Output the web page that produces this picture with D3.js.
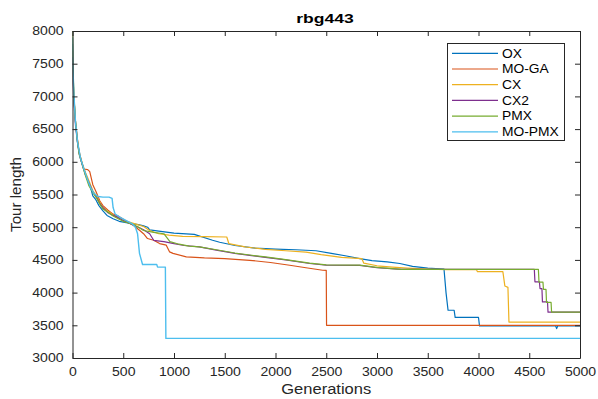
<!DOCTYPE html>
<html>
<head>
<meta charset="utf-8">
<script src="https://cdn.jsdelivr.net/npm/d3@7/dist/d3.min.js"></script>
<style>
  html, body { margin: 0; padding: 0; background: #fff; }
  svg { display: block; font-family: "Liberation Sans", Arial, sans-serif; }
</style>
</head>
<body>
<svg id="chart" width="598" height="399"></svg>
<script>
// ---------- DATA ----------
const chartTitle = "rbg443";
const xLabel = "Generations";
const yLabel = "Tour length";
const xTicks = [0, 500, 1000, 1500, 2000, 2500, 3000, 3500, 4000, 4500, 5000];
const yTicks = [3000, 3500, 4000, 4500, 5000, 5500, 6000, 6500, 7000, 7500, 8000];
const seriesNames = ["OX", "MO-GA", "CX", "CX2", "PMX", "MO-PMX"];
const seriesColors = ["#0072BD", "#D95319", "#EDB120", "#7E2F8E", "#77AC30", "#4DBEEE"];

// [generation, tour length]
const oxData = [[0,7800],[5,7300],[15,6950],[30,6600],[50,6300],[70,6100],[100,5950],[130,5800],[170,5650],[200,5480],[230,5420],[260,5330],[300,5250],[340,5180],[400,5130],[460,5090],[530,5070],[600,5050],[650,5040],[700,5020],[740,5000],[760,4960],[850,4940],[1000,4910],[1200,4890],[1380,4800],[1450,4770],[1600,4720],[1800,4680],[2000,4665],[2200,4655],[2400,4640],[2550,4600],[2700,4560],[2830,4520],[2950,4490],[3100,4470],[3225,4445],[3350,4400],[3500,4375],[3660,4360],[3680,4000],[3700,3730],[3760,3730],[3770,3620],[4000,3620],[4010,3490],[4760,3490],[4770,3450],[4780,3490],[5000,3490]];
const mogaData = [[0,7700],[10,7100],[30,6600],[60,6200],[90,5990],[110,5890],[150,5880],[170,5850],[200,5650],[230,5550],[270,5400],[300,5330],[350,5260],[400,5200],[450,5170],[500,5120],[560,5060],[600,5030],[660,4954],[700,4900],[739,4827],[800,4800],[858,4750],[924,4725],[957,4622],[990,4600],[1121,4546],[1300,4530],[1500,4520],[1746,4494],[1950,4460],[2140,4418],[2300,4380],[2465,4342],[2500,4340],[2503,3500],[5000,3500]];
const cxData = [[0,7900],[5,7400],[15,7000],[30,6600],[50,6320],[70,6120],[100,5960],[130,5830],[170,5680],[200,5560],[240,5460],[270,5380],[300,5300],[350,5240],[400,5190],[450,5140],[500,5110],[560,5080],[640,5040],[700,5010],[760,4950],[850,4900],[950,4880],[1085,4860],[1300,4855],[1520,4850],[1540,4750],[1700,4700],[1900,4660],[2100,4640],[2300,4620],[2450,4580],[2650,4540],[2850,4520],[2870,4450],[3000,4410],[3150,4390],[3300,4375],[3500,4360],[3700,4350],[3980,4350],[3990,4320],[4240,4320],[4260,4100],[4290,4080],[4300,3550],[5000,3550]];
const cx2Data = [[0,7600],[5,7200],[15,6900],[30,6550],[50,6280],[70,6090],[100,5940],[130,5790],[170,5650],[200,5540],[240,5450],[270,5360],[300,5300],[350,5220],[400,5180],[450,5150],[500,5100],[560,5060],[600,5030],[650,5000],[700,4960],[760,4900],[800,4800],[900,4780],[1000,4750],[1100,4720],[1250,4700],[1417,4650],[1600,4600],[1746,4570],[1900,4540],[2100,4500],[2337,4445],[2500,4420],[2830,4415],[3000,4380],[3240,4355],[4550,4355],[4556,4165],[4600,4165],[4606,4062],[4625,4062],[4630,3857],[4680,3857],[4685,3700],[5000,3700]];
const pmxData = [[0,8000],[4,7500],[12,7050],[25,6700],[45,6350],[65,6120],[95,5960],[125,5800],[160,5640],[200,5530],[240,5440],[270,5350],[300,5280],[350,5230],[400,5170],[450,5130],[500,5090],[560,5060],[600,5040],[650,5000],[700,4950],[800,4920],[900,4900],[960,4780],[1050,4740],[1150,4710],[1250,4700],[1417,4655],[1600,4605],[1746,4575],[1900,4545],[2100,4505],[2337,4450],[2500,4425],[2830,4420],[3000,4385],[3240,4355],[4590,4355],[4596,4160],[4635,4160],[4640,4050],[4665,4050],[4670,3850],[4715,3850],[4720,3700],[5000,3700]];
const mopmxData = [[0,7900],[5,7400],[15,7000],[30,6600],[50,6300],[80,6050],[110,5900],[150,5720],[180,5600],[210,5520],[250,5470],[300,5460],[360,5460],[390,5440],[400,5300],[420,5200],[470,5150],[530,5100],[590,5050],[620,5000],[641,4900],[660,4600],[690,4430],[830,4430],[838,4390],[915,4390],[920,3300],[5000,3300]];
const seriesData = [oxData, mogaData, cxData, cx2Data, pmxData, mopmxData];

// ---------- LAYOUT ----------
const svg = d3.select("#chart");
const mLeft = 72.5, mRight = 580, mTop = 31, mBottom = 358;
const x = d3.scaleLinear().domain([0, 5000]).range([mLeft, mRight]);
const y = d3.scaleLinear().domain([3000, 8000]).range([mBottom, mTop]);
const axisColor = "#262626";

// stretch helper to mimic horizontally stretched rendering
function stretch(sel, f) {
  sel.each(function() {
    const n = this.getComputedTextLength();
    d3.select(this).attr("textLength", n * f).attr("lengthAdjust", "spacingAndGlyphs");
  });
}

svg.append("defs").append("clipPath").attr("id", "clip")
  .append("rect").attr("x", mLeft).attr("y", mTop).attr("width", mRight - mLeft).attr("height", mBottom - mTop);

// lines
const line = d3.line().x(d => x(d[0])).y(d => y(d[1]));
const linesG = svg.append("g").attr("clip-path", "url(#clip)");
seriesData.forEach((data, i) => {
  linesG.append("path")
    .datum(data)
    .attr("fill", "none")
    .attr("stroke", seriesColors[i])
    .attr("stroke-width", i === 5 ? 1.4 : 1.2)
    .attr("stroke-linejoin", "round")
    .attr("d", line);
});

// axes
const tickLen = 5;
const fmt = d3.format("d");
const xAxisB = d3.axisBottom(x).tickValues(xTicks).tickFormat(fmt).tickSizeInner(-tickLen).tickSizeOuter(0).tickPadding(9);
const xAxisT = d3.axisTop(x).tickValues(xTicks).tickSizeInner(-tickLen).tickSizeOuter(0).tickFormat("");
const yAxisL = d3.axisLeft(y).tickValues(yTicks).tickFormat(fmt).tickSizeInner(-tickLen).tickSizeOuter(0).tickPadding(9);
const yAxisR = d3.axisRight(y).tickValues(yTicks).tickSizeInner(-tickLen).tickSizeOuter(0).tickFormat("");

function styleAxis(g) {
  g.selectAll("path.domain").attr("stroke", axisColor).attr("stroke-width", 1);
  g.selectAll(".tick line").attr("stroke", axisColor).attr("stroke-width", 1);
  g.selectAll(".tick text").attr("fill", axisColor).style("font-size", "12px")
    .style("font-family", "'Liberation Sans', Arial, sans-serif");
}
const gxB = svg.append("g").attr("transform", `translate(0,${mBottom})`).call(xAxisB).call(styleAxis);
svg.append("g").attr("transform", `translate(0,${mTop})`).call(xAxisT).call(styleAxis);
const gyL = svg.append("g").attr("transform", `translate(${mLeft},0)`).call(yAxisL).call(styleAxis);
svg.append("g").attr("transform", `translate(${mRight},0)`).call(yAxisR).call(styleAxis);
gxB.selectAll(".tick text").call(stretch, 1.17);
gyL.selectAll(".tick text").call(stretch, 1.17);

// title
svg.append("text").attr("x", 325).attr("y", 22.5).attr("text-anchor", "middle")
  .style("font-size", "13.5px").style("font-weight", "bold").attr("fill", "#000")
  .text(chartTitle).call(stretch, 1.3);

// axis labels
svg.append("text").attr("x", (mLeft + mRight) / 2).attr("y", 393.5).attr("text-anchor", "middle")
  .style("font-size", "14px").attr("fill", axisColor).text(xLabel).call(stretch, 1.18);
svg.append("text").attr("transform", `translate(21,${(mTop + mBottom) / 2}) rotate(-90)`)
  .attr("text-anchor", "middle").style("font-size", "14px").attr("fill", axisColor)
  .text(yLabel).call(stretch, 1.08);

// legend
const lg = svg.append("g");
lg.append("rect").attr("x", 447.5).attr("y", 43.5).attr("width", 117).attr("height", 97)
  .attr("fill", "#fff").attr("stroke", axisColor).attr("stroke-width", 1);
seriesNames.forEach((name, i) => {
  const yy = 53.3 + i * 15.7;
  lg.append("line").attr("x1", 452).attr("x2", 498).attr("y1", yy).attr("y2", yy)
    .attr("stroke", seriesColors[i]).attr("stroke-width", 1.2);
  lg.append("text").attr("x", 502).attr("y", yy + 4.3).style("font-size", "12px")
    .attr("fill", "#000").text(name).call(stretch, 1.15);
});
</script>
</body>
</html>
